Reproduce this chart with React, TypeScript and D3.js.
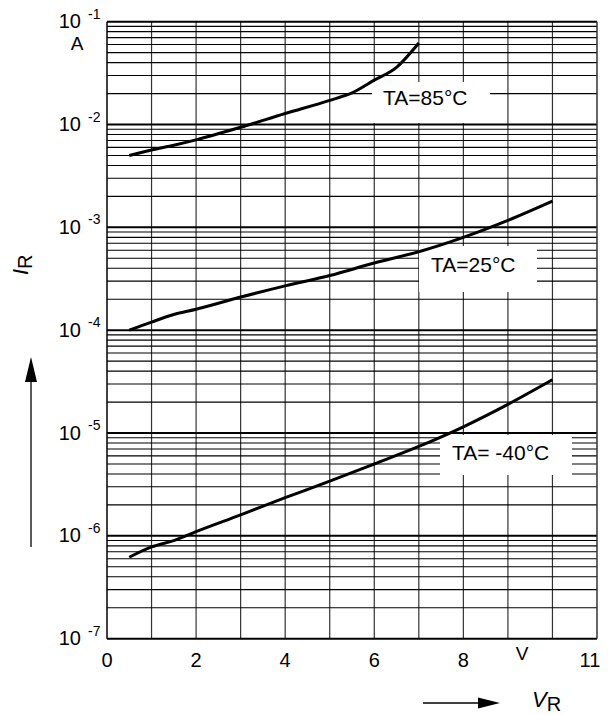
import React from "react";
import * as d3 from "d3";

const xTicks = [0, 2, 4, 6, 8, 11];
const xGrid = [1, 2, 3, 4, 5, 6, 7, 8, 9, 10];
const decades = [-1, -2, -3, -4, -5, -6, -7];

const vr85 = [0.5, 1, 1.5, 2, 3, 4, 5, 5.5, 6, 6.5, 7];
const ir85 = [5.0e-3, 5.65e-3, 6.3e-3, 7.1e-3, 9.4e-3, 1.28e-2, 1.72e-2, 2.03e-2, 2.7e-2, 3.6e-2, 6.2e-2];

const vr25 = [0.5, 1, 1.5, 2, 3, 4, 5, 6, 7, 8, 9, 10];
const ir25 = [1.0e-4, 1.2e-4, 1.42e-4, 1.6e-4, 2.1e-4, 2.7e-4, 3.4e-4, 4.5e-4, 5.8e-4, 8.0e-4, 1.17e-3, 1.8e-3];

const vrM40 = [0.5, 1, 1.5, 2, 3, 4, 5, 6, 7, 8, 9, 10];
const irM40 = [6.2e-7, 7.8e-7, 9.0e-7, 1.1e-6, 1.6e-6, 2.35e-6, 3.4e-6, 5.0e-6, 7.4e-6, 1.15e-5, 1.9e-5, 3.3e-5];

const seriesLabels = ["TA=85°C", "TA=25°C", "TA= -40°C"];

const FONT = "'Liberation Sans', Arial, sans-serif";

export default function App() {
  const left = 107, right = 597, top = 21.7, bottom = 638.7;
  const x = d3.scaleLinear().domain([0, 11]).range([left, right]);
  const y = d3.scaleLog().domain([1e-7, 1e-1]).range([bottom, top]);

  const minor: number[] = [];
  for (let e = -7; e < -1; e++) {
    for (let m = 2; m <= 9; m++) minor.push(m * Math.pow(10, e));
  }

  const line = d3
    .line<[number, number]>()
    .x((d) => x(d[0]))
    .y((d) => y(d[1]))
    .curve(d3.curveMonotoneX);

  const series = [
    vr85.map((v, i) => [v, ir85[i]] as [number, number]),
    vr25.map((v, i) => [v, ir25[i]] as [number, number]),
    vrM40.map((v, i) => [v, irM40[i]] as [number, number]),
  ];

  const boxes = [
    { x0: 372, x1: 490, y0: 82, y1: 123, tx: 383, ty: 105 },
    { x0: 419, x1: 537, y0: 246, y1: 292, tx: 431, ty: 272 },
    { x0: 440, x1: 572, y0: 435, y1: 475, tx: 452, ty: 460 },
  ];

  return (
    <svg
      width={608}
      height={715}
      style={{ position: "absolute", left: 0, top: 0, background: "#fff" }}
      fontFamily={FONT}
    >
      <rect x={0} y={0} width={608} height={715} fill="#fff" />
      {xGrid.map((v) => (
        <line key={"vx" + v} x1={x(v)} x2={x(v)} y1={top} y2={bottom} stroke="#333" strokeWidth={1.2} />
      ))}
      {minor.map((v, i) => (
        <line key={"mh" + i} x1={left} x2={right} y1={y(v)} y2={y(v)} stroke="#000" strokeWidth={1.1} />
      ))}
      {decades.map((e) => (
        <line key={"dh" + e} x1={left} x2={right} y1={y(Math.pow(10, e))} y2={y(Math.pow(10, e))} stroke="#000" strokeWidth={2} />
      ))}
      <line x1={left} x2={left} y1={top} y2={bottom} stroke="#000" strokeWidth={1.5} />
      <line x1={right} x2={right} y1={top} y2={bottom} stroke="#333" strokeWidth={1.5} />

      {boxes.map((b, i) => (
        <rect key={"b" + i} x={b.x0} y={b.y0} width={b.x1 - b.x0} height={b.y1 - b.y0} fill="#fff" />
      ))}

      {series.map((s, i) => (
        <path key={"s" + i} d={line(s) || ""} fill="none" stroke="#000" strokeWidth={3} strokeLinejoin="round" />
      ))}

      {boxes.map((b, i) => (
        <text key={"t" + i} x={b.tx} y={b.ty} fontSize={21} fill="#000">
          {seriesLabels[i]}
        </text>
      ))}

      {decades.map((e) => (
        <g key={"yl" + e}>
          <text x={81} y={y(Math.pow(10, e)) + 6.5} fontSize={20} textAnchor="end" fill="#000">
            10
          </text>
          <text x={88} y={y(Math.pow(10, e)) - 3} fontSize={14} fill="#000">
            {String(e)}
          </text>
        </g>
      ))}
      <text x={77} y={50} fontSize={19} textAnchor="middle" fill="#000">A</text>

      {xTicks.map((v) => (
        <text
          key={"xl" + v}
          x={v === 11 ? x(v) - 7 : x(v)}
          y={667}
          fontSize={20}
          textAnchor="middle"
          fill="#000"
        >
          {String(v)}
        </text>
      ))}
      <text x={522} y={660} fontSize={19} textAnchor="middle" fill="#000">V</text>

      <line x1={423} x2={480} y1={703} y2={703} stroke="#000" strokeWidth={1.3} />
      <path d="M478,697.5 L500,703 L478,708.5 Z" fill="#000" />
      <text x={532} y={707} fontSize={22} fill="#000">
        <tspan fontStyle="italic">V</tspan>
        <tspan fontSize={20} dy={4}>R</tspan>
      </text>

      <text transform="translate(28,275) rotate(-90)" fontSize={22} fill="#000">
        <tspan fontStyle="italic">I</tspan>
        <tspan fontSize={20} dy={4}>R</tspan>
      </text>
      <line x1={31} x2={31} y1={547} y2={380} stroke="#000" strokeWidth={1.3} />
      <path d="M25,382 L31,357 L37,382 Z" fill="#000" />
    </svg>
  );
}
